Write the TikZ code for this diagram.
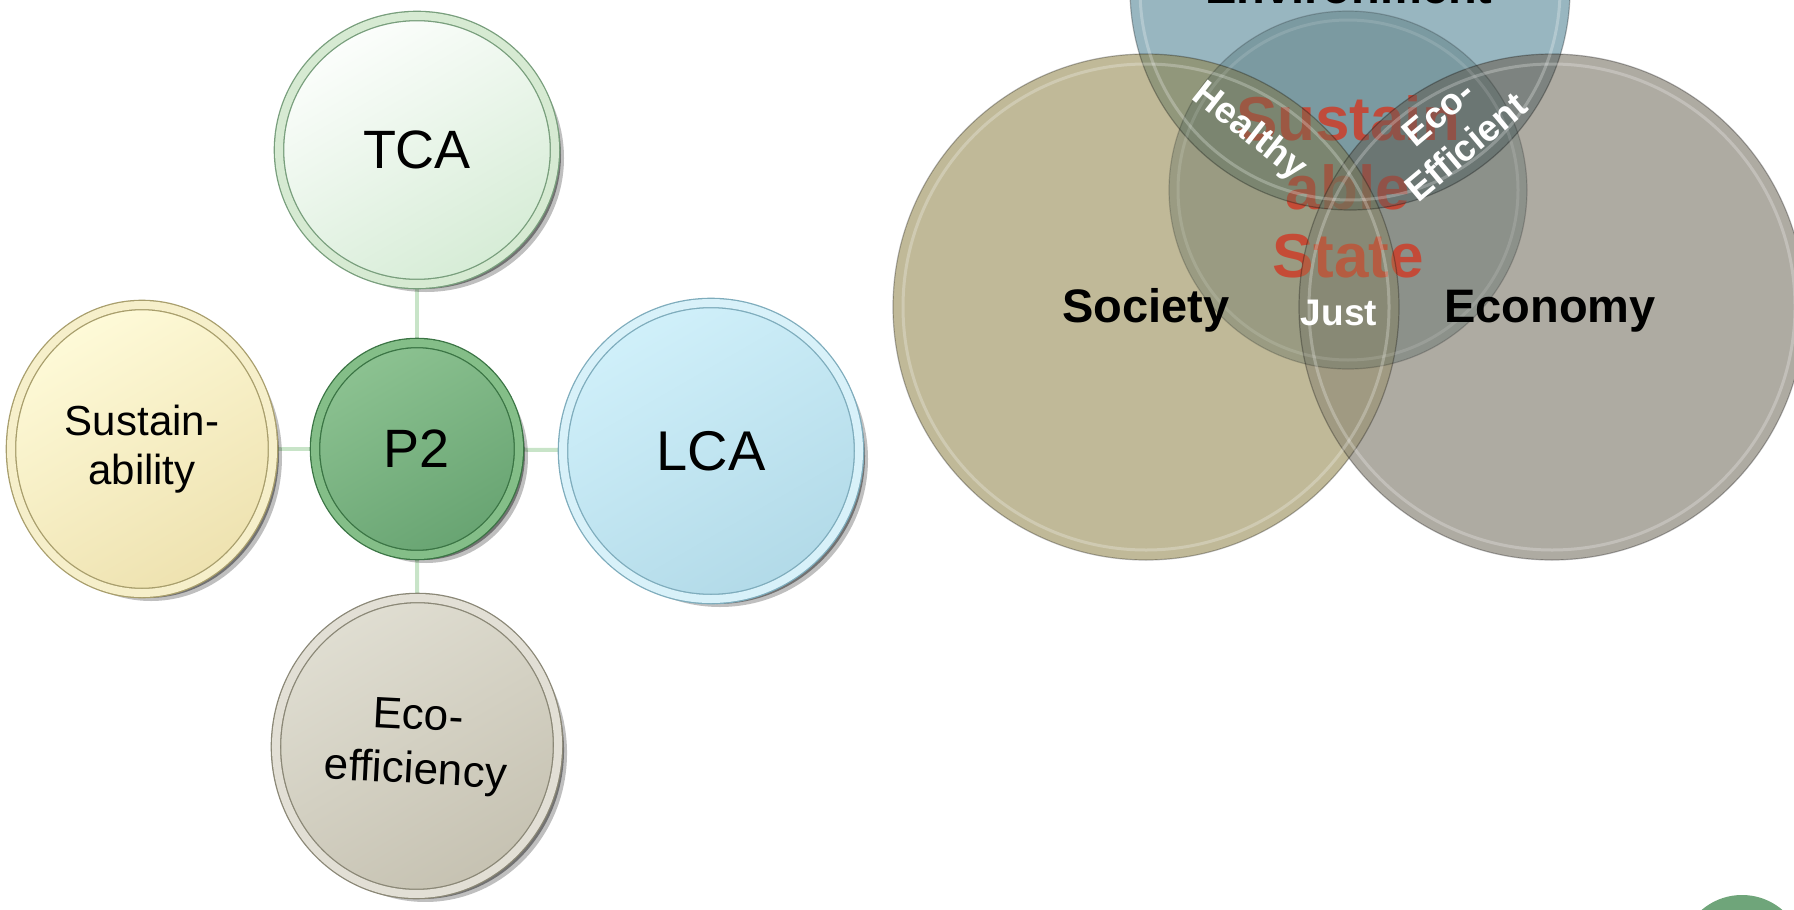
\documentclass[tikz,border=0pt]{standalone}
\usepackage{fontspec}
\setmainfont{Liberation Sans}
\usetikzlibrary{shapes.geometric,shadows,backgrounds}

% bubble palette: fill top / fill bottom / rim line / rim band
\definecolor{tcaTop}{RGB}{252,254,252}
\definecolor{tcaBot}{RGB}{214,236,214}
\definecolor{tcaRim}{RGB}{120,158,124}
\definecolor{tcaBand}{RGB}{214,234,210}
\definecolor{ptwoTop}{RGB}{140,194,145}
\definecolor{ptwoBot}{RGB}{104,164,114}
\definecolor{ptwoRim}{RGB}{58,116,68}
\definecolor{ptwoBand}{RGB}{132,190,136}
\definecolor{susTop}{RGB}{254,250,216}
\definecolor{susBot}{RGB}{238,226,176}
\definecolor{susRim}{RGB}{168,158,108}
\definecolor{susBand}{RGB}{246,239,202}
\definecolor{lcaTop}{RGB}{208,240,250}
\definecolor{lcaBot}{RGB}{178,218,232}
\definecolor{lcaRim}{RGB}{126,172,188}
\definecolor{lcaBand}{RGB}{216,241,249}
\definecolor{effTop}{RGB}{224,222,210}
\definecolor{effBot}{RGB}{198,194,178}
\definecolor{effRim}{RGB}{138,135,118}
\definecolor{effBand}{RGB}{226,223,213}
\definecolor{connGreen}{RGB}{200,228,200}

% Venn palette
\definecolor{envCol}{RGB}{134,169,181}
\definecolor{socCol}{RGB}{181,173,134}
\definecolor{ecoCol}{RGB}{160,156,146}
\definecolor{innCol}{RGB}{40,70,70}
\definecolor{lensHealthy}{RGB}{90,110,90}
\definecolor{lensEff}{RGB}{80,95,95}
\definecolor{lensJust}{RGB}{150,140,90}
\definecolor{stateRed}{RGB}{205,62,42}
\definecolor{cornerGreen}{RGB}{111,165,122}

\newcommand\setfs[2]{\fontsize{#1}{#2}\selectfont}

\begin{document}
\begin{tikzpicture}[x=1pt,y=-1pt,
  bubble/.style n args={4}{ellipse, inner sep=0pt, align=center, text=black,
    top color=#1, bottom color=#2, shading angle=30,
    draw=#3, line width=1.3pt, double=#4, double distance=8pt,
    general shadow={shadow xshift=9pt, shadow yshift=-8pt, opacity=0.25, fill=black},
    drop shadow={shadow xshift=6pt, shadow yshift=-5pt, opacity=0.5, fill=black!85}},
  conn/.style={draw=connGreen, line width=4pt},
  vlabel/.style={font=\setfs{47}{54}\bfseries, text=black, inner sep=0pt},
  wlabel/.style={font=\setfs{37}{44}\bfseries, text=white, inner sep=0pt, align=center},
  redlabel/.style={font=\setfs{62}{69}\bfseries, text=stateRed, text opacity=0.85, inner sep=0pt},
  rimline/.style={draw=black, draw opacity=0.28, line width=1.2pt},
  rimglow/.style={draw=white, draw opacity=0.25, line width=3pt}
]
\useasboundingbox (0,0) rectangle (1794,910);
\clip (0,0) rectangle (1794,910);

% ---------- P2 cluster ----------
\node[bubble={tcaTop}{tcaBot}{tcaRim}{tcaBand}, minimum width=276pt, minimum height=268pt,
      font=\setfs{54}{60}] (tca) at (417,150) {TCA};
\node[bubble={ptwoTop}{ptwoBot}{ptwoRim}{ptwoBand}, minimum width=204pt, minimum height=212pt,
      font=\setfs{54}{60}] (p2) at (417,449) {P2};
\node[bubble={susTop}{susBot}{susRim}{susBand}, minimum width=262pt, minimum height=288pt,
      font=\setfs{42}{49}] (sust) at (142,449) {Sustain-\\ability};
\node[bubble={lcaTop}{lcaBot}{lcaRim}{lcaBand}, minimum width=296pt, minimum height=296pt,
      font=\setfs{56}{62}] (lca) at (711,451) {LCA};
\node[bubble={effTop}{effBot}{effRim}{effBand}, minimum width=282pt, minimum height=296pt,
      font=\setfs{44}{54}, rotate=-3] (eff) at (417,746) {Eco-\\efficiency};

\begin{pgfonlayer}{background}
  \draw[conn] (tca) -- (p2);
  \draw[conn] (p2) -- (eff);
  \draw[conn] (sust) -- (p2);
  \draw[conn] (p2) -- (lca);
\end{pgfonlayer}

% ---------- Venn of the sustainable state ----------
\coordinate (envC) at (1350,-10);
\coordinate (socC) at (1146,307);
\coordinate (ecoC) at (1552,307);
\coordinate (innC) at (1348,190);

\fill[envCol, fill opacity=0.85] (envC) circle[radius=220pt];
\fill[socCol, fill opacity=0.85] (socC) circle[radius=253pt];
\fill[ecoCol, fill opacity=0.85] (ecoC) circle[radius=253pt];

% inner circle
\fill[innCol, fill opacity=0.25] (innC) circle[radius=179pt];

% centre title
\node[redlabel, anchor=base] (stA) at (1348,140) {Sustain};
\node[redlabel, anchor=base] (stB) at (1348,209) {able};
\node[redlabel, anchor=base] (stC) at (1348,277) {State};

% pairwise lenses
\begin{scope}
  \clip (envC) circle[radius=220pt];
  \fill[lensHealthy, fill opacity=0.36] (socC) circle[radius=253pt];
  \fill[lensEff, fill opacity=0.42] (ecoC) circle[radius=253pt];
\end{scope}
\begin{scope}
  \clip (socC) circle[radius=253pt];
  \fill[lensJust, fill opacity=0.28] (ecoC) circle[radius=253pt];
\end{scope}

% rims
\draw[rimline] (envC) circle[radius=220pt];
\draw[rimline] (socC) circle[radius=253pt];
\draw[rimline] (ecoC) circle[radius=253pt];
\draw[rimline, draw opacity=0.18] (innC) circle[radius=179pt];
\draw[rimglow] (envC) circle[radius=210pt];
\draw[rimglow] (socC) circle[radius=243pt];
\draw[rimglow] (ecoC) circle[radius=243pt];
\draw[rimglow, draw opacity=0.12] (innC) circle[radius=170pt];

% labels
\node[vlabel, anchor=base] (envlab) at (1349,4) {Environment};
\node[vlabel, anchor=base] (soclab) at (1146,322) {Society};
\node[vlabel, anchor=base] (ecolab) at (1550,322) {Economy};
\node[wlabel, anchor=base] (justlab) at (1339,325) {Just};
\node[wlabel, rotate=-38] (healthylab) at (1249,132) {Healthy};
\node[wlabel, rotate=40] (efflab) at (1452,130) {Eco-\\Efficient};

% corner disc
\fill[cornerGreen] (1742,957) circle[radius=62pt];
\end{tikzpicture}
\end{document}
